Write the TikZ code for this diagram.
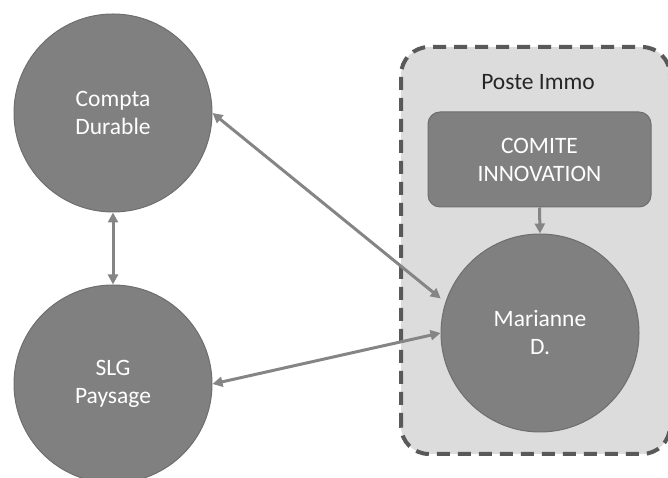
\documentclass[tikz,border=0pt]{standalone}
\usepackage{fontspec}
\setmainfont{Carlito}
\usetikzlibrary{arrows.meta}
\definecolor{nodegray}{HTML}{808080}
\definecolor{rimgray}{HTML}{6E6E6E}
\definecolor{linkgray}{HTML}{858585}
\definecolor{boxgray}{HTML}{DCDCDC}
\definecolor{dashgray}{HTML}{595959}
\begin{document}
\begin{tikzpicture}[x=1pt,y=1pt,
    every node/.style={font=\fontsize{23.5}{28}\selectfont,align=center},
    bubble/.style={circle,fill=nodegray,draw=rimgray,line width=1pt,text=white,minimum size=198pt,inner sep=0pt},
    panel/.style={rounded corners=12pt,fill=nodegray,draw=rimgray,line width=1pt,text=white,minimum width=223pt,minimum height=95pt,inner sep=0pt},
    link/.style={line width=3pt,draw=linkgray,{Triangle[length=10pt,width=10pt]}-{Triangle[length=10pt,width=10pt]}},
    feed/.style={line width=3pt,draw=linkgray,-{Triangle[length=10pt,width=10pt]}}]
      \useasboundingbox (0,0) rectangle (668,478);
      \draw[fill=boxgray,draw=dashgray,line width=4pt,dash pattern=on 13pt off 8pt,rounded corners=28pt] (401,24) rectangle (670,431);
      \node[text=black!85] (poste) at (538,396) {Poste Immo};
      \node[panel] (comite) at (539.5,318.5) {COMITE\\INNOVATION};
      \node[bubble] (compta) at (113,365) {Compta\\Durable};
      \node[bubble] (slg) at (113,94) {SLG\\Paysage};
      \node[bubble] (marianne) at (540,145) {Marianne\\D.};
      \draw[link,shorten >=6pt] (compta.east) -- (marianne.162);
      \draw[link] (slg.east) -- (marianne.west);
      \draw[link] (compta.south) -- (slg.north);
      \draw[feed] (comite.south) -- (marianne.north);
\end{tikzpicture}
\end{document}
